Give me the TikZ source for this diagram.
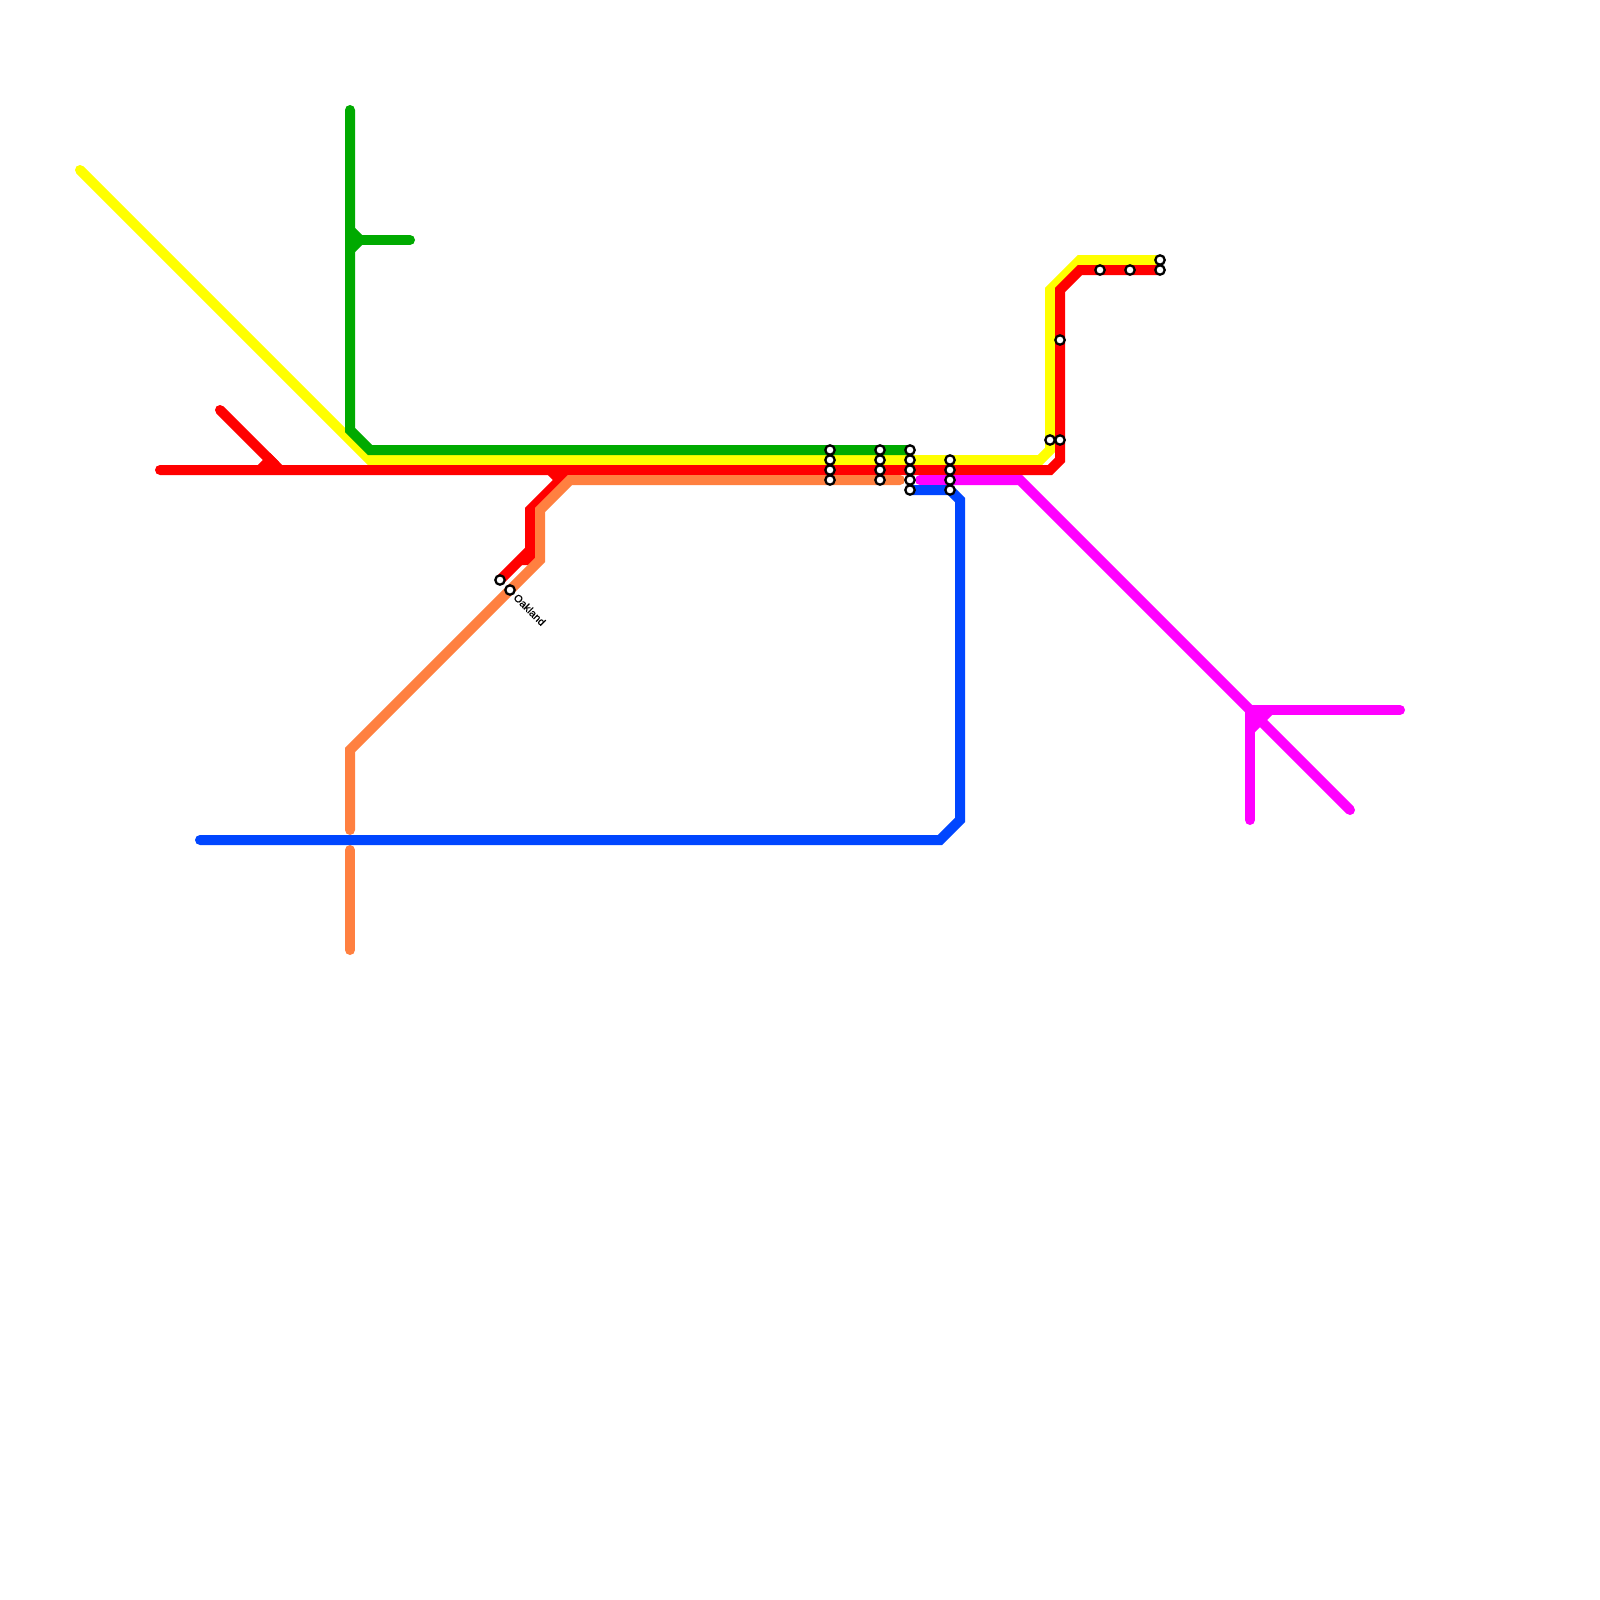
\documentclass[tikz,border=0pt]{standalone}
\usepackage{fontspec}
\setmainfont{Liberation Sans}
\newfontfamily\lblfont[BoldFont={Liberation Sans},BoldFeatures={FakeBold=0.6}]{Liberation Sans}
\tikzset{x=1pt,y=-1pt,
  metro/.style={line width=10pt,line cap=round,line join=miter,miter limit=10},
  stub/.style={line width=10pt,line cap=butt,line join=miter,miter limit=10},
  stn/.style={circle,draw=black,fill=white,line width=2.3pt,minimum size=9.4pt,inner sep=0pt,outer sep=0pt},
  lbl/.style={font=\lblfont\bfseries\fontsize{10.7}{11}\selectfont,inner sep=0pt,anchor=west,rotate=-45}}
\definecolor{mYellow}{RGB}{255,255,0}
\definecolor{mGreen}{RGB}{0,170,0}
\definecolor{mRed}{RGB}{255,0,0}
\definecolor{mOrange}{RGB}{255,128,64}
\definecolor{mBlue}{RGB}{0,70,255}
\definecolor{mMagenta}{RGB}{255,0,255}
\begin{document}
\begin{tikzpicture}
\useasboundingbox[fill=white] (0,0) rectangle (1600,1600);
% yellow
\draw[metro,mYellow] (80,170) -- (370,460) -- (1040,460) -- (1050,450) -- (1050,290) -- (1080,260) -- (1160,260);
% green
\draw[metro,mGreen] (350,110) -- (350,430) -- (370,450) -- (910,450);
\draw[metro,mGreen] (410,240) -- (360,240);
\draw[stub,mGreen] (350,230) -- (360,240) -- (350,250);
% red
\draw[metro,mRed] (160,470) -- (1050,470) -- (1060,460) -- (1060,290) -- (1080,270) -- (1160,270);
\draw[metro,mRed] (220,410) -- (275,465);
\draw[stub,mRed] (260,470) -- (270,460) -- (280,470);
\draw[stub,mRed] (570,470) -- (530,510) -- (530,560) -- (520,560);
\draw[metro,mRed] (500,580) -- (520,560);
\draw[stub,mRed] (520,560) -- (530,550);
\draw[stub,mRed] (550,470) -- (560,480);
% orange
\draw[metro,mOrange] (350,830) -- (350,750) -- (540,560) -- (540,510) -- (570,480) -- (900,480);
\draw[metro,mOrange] (350,850) -- (350,950);
% magenta
\draw[metro,mMagenta] (920,480) -- (1020,480) -- (1350,810);
\draw[metro,mMagenta] (1250,710) -- (1400,710);
\draw[metro,mMagenta] (1250,710) -- (1250,820);
\draw[stub,mMagenta] (1250,730) -- (1270,710);
% blue
\draw[metro,mBlue] (200,840) -- (940,840) -- (960,820) -- (960,500) -- (950,490) -- (910,490);
% stations
\foreach \n/\px/\py in {a1/830/450,a2/830/460,a3/830/470,a4/830/480,
  b1/880/450,b2/880/460,b3/880/470,b4/880/480,
  c1/910/450,c2/910/460,c3/910/470,c4/910/480,c5/910/490,
  d1/950/460,d2/950/470,d3/950/480,d4/950/490,
  e1/1050/440,e2/1060/440,e3/1060/340,
  f1/1100/270,f2/1130/270,f3/1160/270,f4/1160/260,
  g1/500/580,g2/510/590}
  \node[stn] (\n) at (\px,\py) {};
\node[lbl] (oak) at (515.5,595.5) {Oakland};
\end{tikzpicture}
\end{document}
